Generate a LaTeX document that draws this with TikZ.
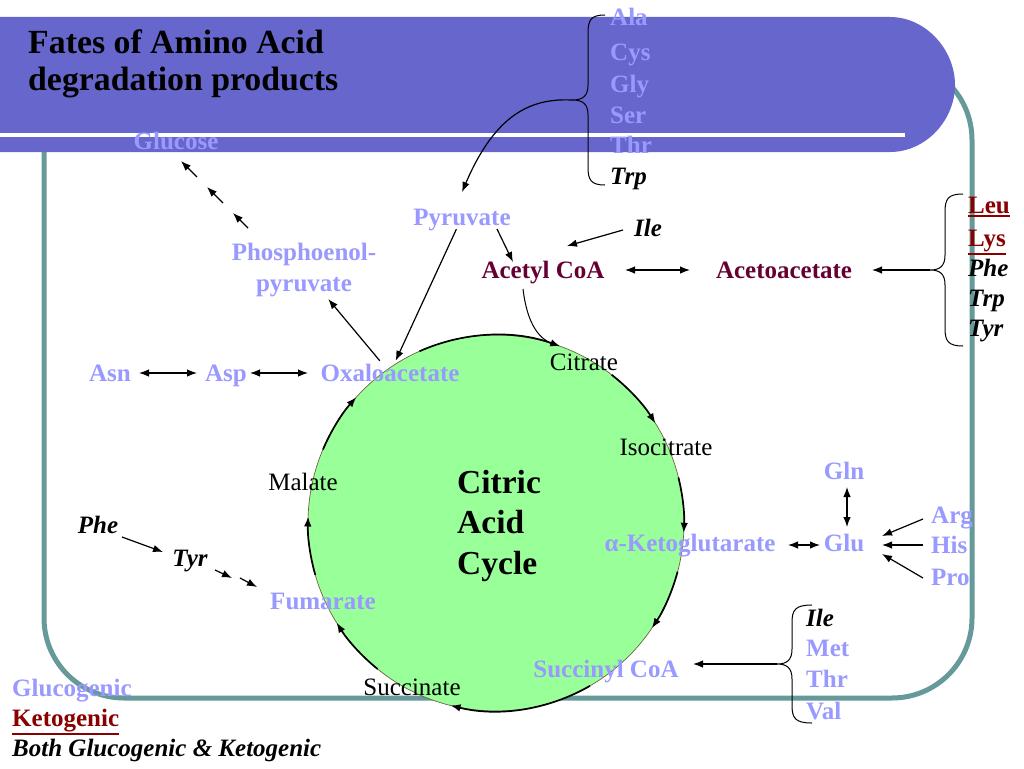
\documentclass[tikz,border=0pt]{standalone}
\usepackage{fontspec}
\setmainfont{Liberation Serif}
\usetikzlibrary{arrows.meta,calc}
\definecolor{lav}{RGB}{153,153,255}
\definecolor{bannerblue}{RGB}{102,102,204}
\definecolor{frameteal}{RGB}{102,153,153}
\definecolor{cgreen}{RGB}{153,255,153}
\definecolor{acmaroon}{RGB}{102,0,51}
\definecolor{ketored}{RGB}{136,0,0}
\definecolor{circedge}{RGB}{110,100,60}
\newcommand\myul[1]{\vtop{\hbox{#1}\kern1.5pt\hrule height 1.8pt}}
\begin{document}
\begin{tikzpicture}[x=1pt,y=-1pt,
  lbl/.style={font=\fontsize{25}{30}\selectfont\bfseries, text height=18pt, text depth=2pt, inner xsep=4pt, inner ysep=2pt},
  glu/.style={lbl,text=lav},
  keto/.style={lbl,text=ketored},
  acet/.style={lbl,text=acmaroon},
  both/.style={lbl,font=\fontsize{25}{30}\selectfont\bfseries\itshape},
  plain/.style={font=\fontsize{25}{30}\selectfont, text height=18pt, text depth=2pt, inner sep=2pt},
  titl/.style={font=\fontsize{33.8}{40}\selectfont\bfseries, inner sep=0},
  cyctxt/.style={font=\fontsize{33.5}{40}\selectfont\bfseries, text height=23pt, text depth=0pt, inner sep=0},
  arr/.style={-{Latex[length=10pt,width=7.5pt]}, line width=1.2pt},
  darr/.style={{Latex[length=10pt,width=7.5pt]}-{Latex[length=10pt,width=7.5pt]}, line width=1.2pt},
  cyc/.style={-{Latex[length=10pt,width=7.5pt]}, line width=1.7pt},
  brc/.style={line width=1pt},
]
\useasboundingbox (0,0) rectangle (1024,768);
\fill[white] (0,0) rectangle (1024,768);

% frame
\draw[frameteal, line width=5pt, rounded corners=80pt] (44,60) rectangle (972,698);

% banner
\fill[bannerblue] (0,17) -- (890,17) .. controls (926,17) and (955,50) .. (955,85)
  .. controls (955,120) and (926,152) .. (890,152) -- (0,152) -- cycle;
\draw[white, line width=4pt] (0,135) -- (905,135);

% title
\node[titl, anchor=base west] (t1) at (28,53) {Fates of Amino Acid};
\node[titl, anchor=base west] (t2) at (28,90) {degradation products};

% cycle circle
\node[circle, minimum size=376pt, inner sep=0, fill=cgreen, draw=circedge, line width=0.7pt] (tca) at (496,523) {};
\draw[cyc] ($(tca.center)+(-114:188)$) arc[start angle=-114, end angle=-70, radius=188];
\draw[cyc] ($(tca.center)+(-52:188)$) arc[start angle=-52, end angle=-32, radius=188];
\draw[cyc] ($(tca.center)+(-14:188)$) arc[start angle=-14, end angle=3, radius=188];
\draw[cyc] ($(tca.center)+(15:188)$) arc[start angle=15, end angle=34, radius=188];
\draw[cyc] ($(tca.center)+(60:188)$) arc[start angle=60, end angle=104, radius=188];
\draw[cyc] ($(tca.center)+(129:188)$) arc[start angle=129, end angle=148, radius=188];
\draw[cyc] ($(tca.center)+(164:188)$) arc[start angle=164, end angle=182, radius=188];
\draw[cyc] ($(tca.center)+(203:188)$) arc[start angle=203, end angle=222, radius=188];

\node[cyctxt, anchor=west] (c1) at (457,482) {Citric};
\node[cyctxt, anchor=west] (c2) at (457,522) {Acid};
\node[cyctxt, anchor=west] (c3) at (457,563) {Cycle};

% cycle intermediates
\node[plain] (cit) at (584,362) {Citrate};
\node[plain] (iso) at (666,447) {Isocitrate};
\node[plain] (mal) at (303,482) {Malate};
\node[plain] (suc) at (412,687) {Succinate};
\node[glu] (akg) at (690,543) {α-Ketoglutarate};
\node[glu] (succoa) at (606,669) {Succinyl CoA};
\node[glu] (fum) at (323,601) {Fumarate};
\node[glu] (oaa) at (390,373) {Oxaloacetate};

% other products
\node[glu] (glc) at (176,141) {Glucose};
\node[glu, align=center, text height=, text depth=, font=\fontsize{25}{31}\selectfont\bfseries] (pep) at (304,270) {Phosphoenol-\\pyruvate};
\node[glu] (pyr) at (462,217) {Pyruvate};
\node[acet] (acoa) at (543,270) {Acetyl CoA};
\node[acet] (aceto) at (784,270) {Acetoacetate};
\node[glu] (asn) at (110,373) {Asn};
\node[glu] (asp) at (226,373) {Asp};
\node[glu] (glu) at (844,543) {Glu};
\node[glu] (gln) at (844,471) {Gln};

% amino acids: top group
\node[glu, anchor=west, inner xsep=0] (ala) at (610,18) {Ala};
\node[glu, anchor=west, inner xsep=0] (cys) at (610,52) {Cys};
\node[glu, anchor=west, inner xsep=0] (gly) at (610,84) {Gly};
\node[glu, anchor=west, inner xsep=0] (ser) at (610,115) {Ser};
\node[glu, anchor=west, inner xsep=0] (thr) at (610,145) {Thr};
\node[both, anchor=west, inner xsep=0] (trp) at (610,176) {Trp};

% right upper group
\node[keto, anchor=west, inner xsep=0] (leu) at (968,205) {\myul{Leu}};
\node[keto, anchor=west, inner xsep=0] (lys) at (968,238) {\myul{Lys}};
\node[both, anchor=west, inner xsep=0] (phe2) at (968,268) {Phe};
\node[both, anchor=west, inner xsep=0] (trp2) at (968,298) {Trp};
\node[both, anchor=west, inner xsep=0] (tyr2) at (968,328) {Tyr};

% right middle group
\node[glu, anchor=west, inner xsep=0] (arg) at (931,515) {Arg};
\node[glu, anchor=west, inner xsep=0] (his) at (931,545) {His};
\node[glu, anchor=west, inner xsep=0] (pro) at (931,577) {Pro};

% right lower group
\node[both, anchor=west, inner xsep=0] (ile3) at (806,618) {Ile};
\node[glu, anchor=west, inner xsep=0] (met) at (806,648) {Met};
\node[glu, anchor=west, inner xsep=0] (thr3) at (806,679) {Thr};
\node[glu, anchor=west, inner xsep=0] (val) at (806,711) {Val};

% others
\node[both] (ile) at (648,228) {Ile};
\node[both] (phe) at (98,525) {Phe};
\node[both] (tyr) at (190,558) {Tyr};

% legend
\node[glu, anchor=west, inner xsep=0] (lg1) at (12,688) {Glucogenic};
\node[keto, anchor=west, inner xsep=0] (lg2) at (12,718) {\myul{Ketogenic}};
\node[both, anchor=west, inner xsep=0] (lg3) at (12,748) {Both Glucogenic \& Ketogenic};

% braces
\coordinate (b1) at (572,100);
\draw[brc] (605,15) .. controls (591,15) and (588,20) .. (588,33) -- (588,85)
  .. controls (588,96) and (583,100) .. (b1) .. controls (583,100) and (588,104) .. (588,115)
  -- (588,167) .. controls (588,180) and (591,185) .. (605,185);
\coordinate (b2) at (930,270);
\draw[brc] (963,194) .. controls (948,194) and (945,199) .. (945,212) -- (945,255)
  .. controls (945,266) and (940,270) .. (b2) .. controls (940,270) and (945,274) .. (945,285)
  -- (945,328) .. controls (945,341) and (948,346) .. (963,346);
\coordinate (b3) at (777,664);
\draw[brc] (812,605) .. controls (795,605) and (792,610) .. (792,623) -- (792,649)
  .. controls (792,660) and (787,664) .. (b3) .. controls (787,664) and (792,668) .. (792,679)
  -- (792,705) .. controls (792,718) and (795,723) .. (812,723);

% connectors
\draw[arr] (b1) .. controls (530,98) and (495,115) .. ($(pyr)+(0,-25)$);
\draw[arr] (b2) -- ($(aceto)+(88,0)$);
\draw[arr] (b3) -- ($(succoa)+(87,-5)$);

\draw[arr] (pyr) -- (oaa);
\draw[arr] (oaa) -- (pep);
\draw[arr] ($(pyr)+(35,12)$) -- ($(acoa)+(-30,-8)$);
\draw[arr] ($(ile)+(-25,2)$) -- ($(acoa)+(24,-24)$);
\draw[darr] ($(acoa)+(82,0)$) -- ($(aceto)+(-94,0)$);
\draw[line width=1pt] ($(acoa)+(-20,19)$) .. controls (527,322) and (538,341) .. ($(tca.center)+(-71:188)$);

\draw[darr] ($(asn)+(29,0)$) -- ($(asp)+(-29,0)$);
\draw[darr] ($(asp)+(24,0)$) -- ($(oaa)+(-82,0)$);

\coordinate (gs) at ($(pep)+(-56,-42)$);
\coordinate (ge) at ($(glc)+(5,20)$);
\draw[arr] (gs) -- ($(gs)!0.224!(ge)$);
\draw[arr] ($(gs)!0.373!(ge)$) -- ($(gs)!0.612!(ge)$);
\draw[arr] ($(gs)!0.761!(ge)$) -- (ge);

\draw[darr] ($(gln)+(3,16)$) -- ($(glu)+(3,-16)$);
\draw[darr] ($(akg)+(98,2)$) -- ($(glu)+(-24,2)$);
\draw[arr] ($(arg.west)+(-8,4)$) -- ($(glu)+(38,-7)$);
\draw[arr] ($(his.west)+(-8,0)$) -- ($(glu)+(38,2)$);
\draw[arr] ($(pro.west)+(-8,1)$) -- ($(glu)+(38,11)$);

\draw[arr] ($(phe)+(24,12)$) -- ($(tyr)+(-27,-6)$);
\draw[arr] ($(tyr)+(25,12)$) -- ($(tyr)+(42,20)$);
\draw[arr] ($(tyr)+(50,20)$) -- ($(fum)+(-66,-14)$);
\end{tikzpicture}
\end{document}
